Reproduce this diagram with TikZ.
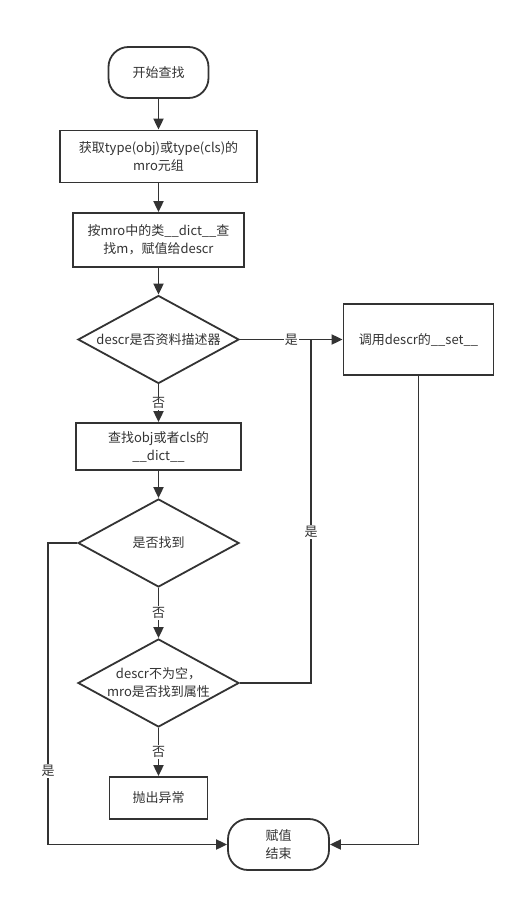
\documentclass[tikz,border=0pt]{standalone}
\usepackage{fontspec}
\setmainfont{Noto Sans CJK SC}
\usetikzlibrary{shapes.geometric,arrows.meta}
\definecolor{ink}{HTML}{333333}

\begin{document}
\begin{tikzpicture}[x=1pt,y=-1pt,
  base/.style={draw=ink, line width=1.8pt, text=ink, fill=white,
    font=\fontsize{13}{18}\selectfont, align=center, inner sep=0pt},
  proc/.style={base, rectangle},
  term/.style={base, rectangle, rounded corners=20pt},
  decision/.style={base, diamond, shape aspect=1.8,
    minimum width=161pt, minimum height=88pt},
  link/.style={draw=ink, line width=1.9pt},
  arr/.style={link, -{Triangle[length=11pt,width=10pt]}},
  lbl/.style={fill=white, text=ink, inner sep=1pt,
    font=\fontsize{13}{14}\selectfont}]

\useasboundingbox (0,0) rectangle (525,902);

% nodes of the flow
\node[term, minimum width=100pt, minimum height=51pt] (start) at (158.5,72.5) {开始查找};
\node[proc, minimum width=197pt, minimum height=52pt] (b1) at (158.5,156.5)
  {获取type(obj)或type(cls)的\\mro元组};
\node[proc, minimum width=171pt, minimum height=54pt] (b2) at (158.5,240)
  {按mro中的类\_\_dict\_\_查\\找m，赋值给descr};
\node[decision] (d1) at (158.5,339.5) {descr是否资料描述器};
\node[proc, minimum width=150pt, minimum height=71pt] (b3) at (418.5,339.5)
  {调用descr的\_\_set\_\_};
\node[proc, minimum width=165pt, minimum height=47pt] (b4) at (158.5,446.5)
  {查找obj或者cls的\\\_\_dict\_\_};
\node[decision] (d2) at (158.5,543) {是否找到};
\node[decision] (d3) at (158.5,683) {descr不为空，\\mro是否找到属性};
\node[proc, minimum width=98pt, minimum height=42pt] (b5) at (158.5,798) {抛出异常};
\node[term, minimum width=101pt, minimum height=51pt] (stop) at (278.5,844.5) {赋值\\结束};

% helper columns for the side routes
\coordinate (lx) at (48,0);
\coordinate (mx) at (311,0);

% connectors
\draw[arr] (start) -- (b1);
\draw[arr] (b1) -- (b2);
\draw[arr] (b2) -- (d1);
\draw[arr] (d1) -- node[lbl]{是} (b3);
\draw[arr] (d1) -- node[lbl]{否} (b4);
\draw[arr] (b4) -- (d2);
\draw[arr] (d2) -- node[lbl]{否} (d3);
\draw[arr] (d3) -- node[lbl]{否} (b5);
\draw[arr] (d2.west) -- (d2.west -| lx) |- node[lbl, pos=0.378]{是} (stop.west);
\draw[link] (d3.east) -| node[lbl, pos=0.72]{是} (mx |- d1.east);
\draw[arr] (b3.south) |- (stop.east);

\end{tikzpicture}
\end{document}
